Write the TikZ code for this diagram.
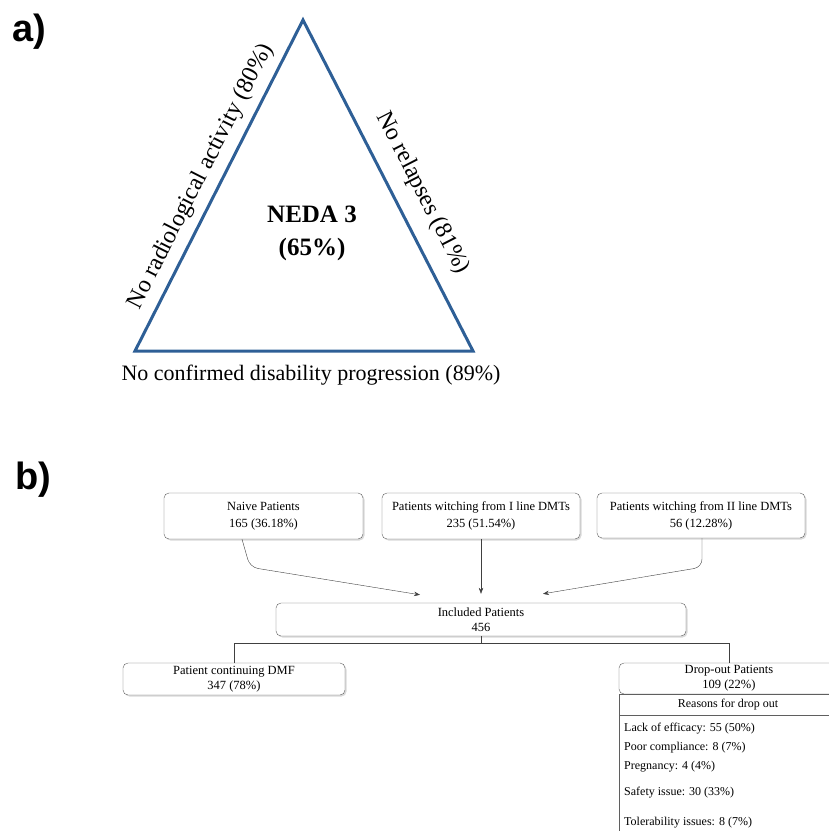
\documentclass[tikz,border=0pt]{standalone}
\usepackage{fontspec}
\setmainfont{Liberation Serif}
\newfontfamily\panelfont{Liberation Sans}
\usetikzlibrary{arrows.meta,shadows}
\definecolor{triblue}{RGB}{46,95,150}
\definecolor{boxgray}{RGB}{95,95,95}

\begin{document}
\begin{tikzpicture}[x=1pt,y=-1pt,
panel/.style={font=\panelfont\bfseries\fontsize{38}{38}\selectfont, anchor=base west, inner sep=0pt},
sidelabel/.style={font=\fontsize{24}{26}\selectfont, sloped, inner sep=2pt},
flowbox/.style={draw=boxgray, rounded corners=5pt, fill=white, align=center,
  font=\fontsize{12.5}{17}\selectfont, inner sep=2pt,
  drop shadow={shadow xshift=1.5pt, shadow yshift=-1.5pt, opacity=0.3}},
flowarrow/.style={draw=black!75, -{Stealth[length=6pt,width=4.5pt]}, rounded corners=8pt},
reason/.style={anchor=west, font=\fontsize{12}{14}\selectfont, inner sep=0pt}
]
\clip (0,0) rectangle (829,831);

% a) NEDA triangle
\node[panel] (pa) at (12,41) {a)};
\coordinate (apex) at (303,20);
\coordinate (lcorner) at (135,351);
\coordinate (rcorner) at (473,351);
\draw[triblue, line width=3pt, line join=miter] (lcorner) -- (apex) -- (rcorner) -- cycle;
\path (lcorner) -- (apex) node[sidelabel, above=7pt, pos=0.5] (radio) {No radiological activity (80\%)};
\path (apex) -- (rcorner) node[sidelabel, above=14pt, pos=0.56] (relap) {No relapses (81\%)};
\node[font=\fontsize{22}{24}\selectfont, anchor=base] (disab) at (311,380) {No confirmed disability progression (89\%)};
\node[font=\bfseries\fontsize{25}{33}\selectfont, align=center] (neda) at (312,233) {NEDA 3\\(65\%)};

% b) flow chart
\node[panel] (pb) at (15,489) {b)};
\node[flowbox, minimum width=199pt, minimum height=46pt] (naive) at (263.5,516) {Naive Patients\\165 (36.18\%)};
\node[flowbox, minimum width=198pt, minimum height=46pt] (first) at (481,516) {Patients witching from I line DMTs\\235 (51.54\%)};
\node[flowbox, minimum width=208pt, minimum height=45pt] (second) at (701,515.5) {Patients witching from II line DMTs\\56 (12.28\%)};
\node[flowbox, minimum width=410pt, minimum height=33pt, font=\fontsize{12.5}{15}\selectfont] (incl) at (481,619.5) {Included Patients\\456};
\node[flowbox, minimum width=222pt, minimum height=32pt, font=\fontsize{12.5}{15}\selectfont] (cont) at (234,679) {Patient continuing DMF\\347 (78\%)};
\node[flowbox, minimum width=220pt, minimum height=31pt, font=\fontsize{12.5}{15}\selectfont] (drop) at (729,678.5) {Drop-out Patients\\109 (22\%)};

\draw[flowarrow] ([xshift=-21.5pt]naive.south) -- ++(8,28) -- ([xshift=-61pt,yshift=8pt]incl.north);
\draw[flowarrow] (first.south) -- ([yshift=9pt]incl.north);
\draw[flowarrow] ([xshift=1pt]second.south) -- ++(0,29) -- ([xshift=62pt,yshift=9pt]incl.north);
\draw[black!75] (incl.south) -- ++(0,7) -| (cont.north);
\draw[black!75] (incl.south) -- ++(0,7) -| (drop.north);

% reasons for drop out
\node[draw=boxgray, fill=white, anchor=north west, minimum width=230pt, minimum height=150pt] (reasons) at (619,694) {};
\draw[boxgray] (619,715) -- (849,715);
\node[font=\fontsize{12}{14}\selectfont] (rhead) at (728,705) {Reasons for drop out};
\node[reason] (r1) at (624,729) {Lack of efficacy: 55 (50\%)};
\node[reason] (r2) at (624,748) {Poor compliance: 8 (7\%)};
\node[reason] (r3) at (624,767) {Pregnancy: 4 (4\%)};
\node[reason] (r4) at (624,793) {Safety issue: 30 (33\%)};
\node[reason] (r5) at (624,823) {Tolerability issues: 8 (7\%)};
\end{tikzpicture}
\end{document}
